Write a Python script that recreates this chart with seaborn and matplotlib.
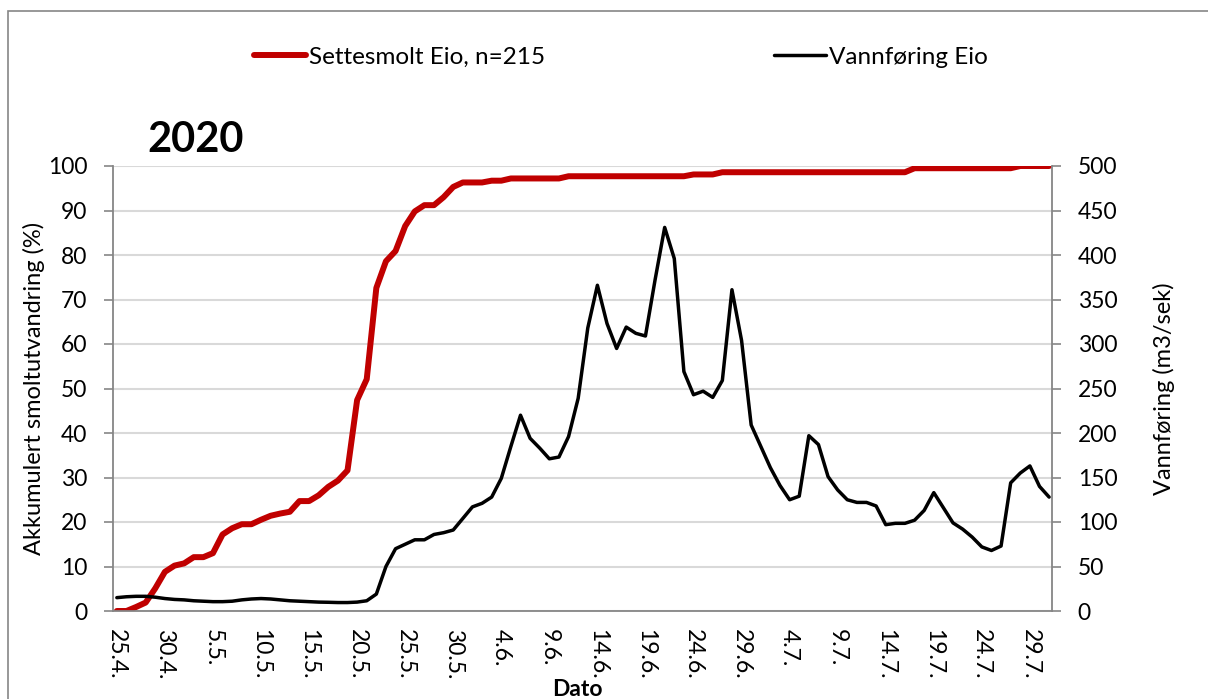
import matplotlib.pyplot as plt
import seaborn as sns
import pandas as pd
from matplotlib.patches import Rectangle

# daily data 25.4. - 31.7.2020
dates = pd.date_range('2020-04-25', '2020-07-31', freq='D')

# cumulative smolt migration (%), n=215
smolt_cum = [0, 0, 0.9, 1.9, 5.1, 8.8, 10.2, 10.7, 12.1, 12.1,
             13.0, 17.2, 18.6, 19.5, 19.5, 20.5, 21.4, 21.9, 22.3, 24.7,
             24.7, 26.0, 27.9, 29.3, 31.6, 47.4, 52.1, 72.6, 78.6, 80.9,
             86.5, 89.8, 91.2, 91.2, 93.0, 95.3, 96.3, 96.3, 96.3, 96.7,
             96.7] + [97.2] * 6 + [97.7] * 13 + [98.1] * 3 + [98.6] * 20 \
            + [99.5] * 11 + [100] * 4

# water discharge (m3/s)
flow = [15, 16, 16.5, 16.5, 15.5, 14, 13, 12.5, 11.5, 11,
        10.5, 10.5, 11, 12.5, 13.5, 14, 13.5, 12.5, 11.5, 11,
        10.5, 10, 9.8, 9.5, 9.5, 10, 11.5, 19, 50, 70,
        75, 80, 80, 86, 88, 91, 104, 117, 121, 128,
        149, 185, 220, 194, 183, 171, 173, 196, 239, 318,
        366, 323, 295, 319, 312, 309, 372, 431, 396, 269,
        243, 247, 240, 259, 361, 304, 209, 185, 161, 141,
        125, 129, 197, 187, 151, 136, 125, 122, 122, 118,
        97, 98.5, 98.5, 102, 113, 133, 116, 99, 92, 83,
        72, 68, 73, 144, 155, 163, 140, 128]

df = pd.DataFrame({'day': range(len(dates)), 'smolt': smolt_cum, 'flow': flow})
tick_pos = list(range(0, len(dates), 5))
tick_labels = [f'{d.day}.{d.month}.' for d in dates[::5]]

sns.set_theme(style='white')
plt.rcParams['font.family'] = ['Lato', 'DejaVu Sans']
plt.rcParams['text.color'] = 'black'

W, H = 1208, 699
fig = plt.figure(figsize=(W / 100, H / 100), dpi=100)
ax = fig.add_axes([113 / W, 88 / H, 939 / W, 445 / H])
ax2 = ax.twinx()

grey = '#868686'
fs = 16.5

sns.lineplot(data=df, x='day', y='smolt', ax=ax, color='#c00000', lw=4.3,
             label='Settesmolt Eio, n=215')
sns.lineplot(data=df, x='day', y='flow', ax=ax2, color='black', lw=2.5,
             label='Vannføring Eio')

h1, l1 = ax.get_legend_handles_labels()
h2, l2 = ax2.get_legend_handles_labels()
ax.get_legend().remove()
ax2.get_legend().remove()

ax.set_xlim(-0.4, 97.3)
ax.set_ylim(0, 100)
ax2.set_ylim(0, 500)
ax.set_yticks(range(0, 101, 10))
ax2.set_yticks(range(0, 501, 50))
ax.set_xticks(tick_pos, tick_labels, rotation=-90)

ax.yaxis.grid(True, color='#d9d9d9', lw=1.5)
ax.set_axisbelow(True)

for a in (ax, ax2):
    a.spines['top'].set_visible(False)
ax.spines['right'].set_visible(False)
ax2.spines['left'].set_visible(False)
ax2.spines['bottom'].set_visible(False)
for s in (ax.spines['left'], ax.spines['bottom'], ax2.spines['right']):
    s.set_color(grey)
    s.set_linewidth(1.3)

ax.tick_params(axis='y', left=True, length=6.5, width=1.2, color=grey,
               pad=12, labelsize=fs, labelcolor='black')
ax2.tick_params(axis='y', right=True, length=6.5, width=1.2, color=grey,
                pad=12, labelsize=fs, labelcolor='black')
ax.tick_params(axis='x', bottom=False, length=0, pad=13, labelsize=fs,
               labelcolor='black')

ax.set_ylabel('Akkumulert smoltutvandring (%)', fontsize=17, color='black')
ax.yaxis.set_label_coords(-0.0724, 0.5)
ax2.set_ylabel('Vannføring (m3/sek)', fontsize=17, color='black',
               rotation=90)
ax2.yaxis.set_label_coords(1.1075, 0.5)
ax.set_xlabel('Dato', fontsize=fs, fontweight='bold', color='black')
ax.xaxis.set_label_coords(0.495, -0.152)

fig.text(147 / W, 1 - 140 / H, '2020', fontsize=30, fontweight='bold',
         va='center', ha='left', color='black')

fig.legend(h1 + h2, l1 + l2, loc='center',
           bbox_to_anchor=(621 / W, 1 - 57 / H), ncol=2, frameon=False,
           fontsize=17.5, handlelength=2.15, handletextpad=0.12,
           columnspacing=9.4, labelcolor='black')

# chart area border
fig.patches.append(Rectangle((8 / W, -0.1), 1.2, 1.1 - 11 / H,
                             transform=fig.transFigure, fill=False,
                             edgecolor=grey, lw=1.2))

fig.savefig('out.png', dpi=100)
